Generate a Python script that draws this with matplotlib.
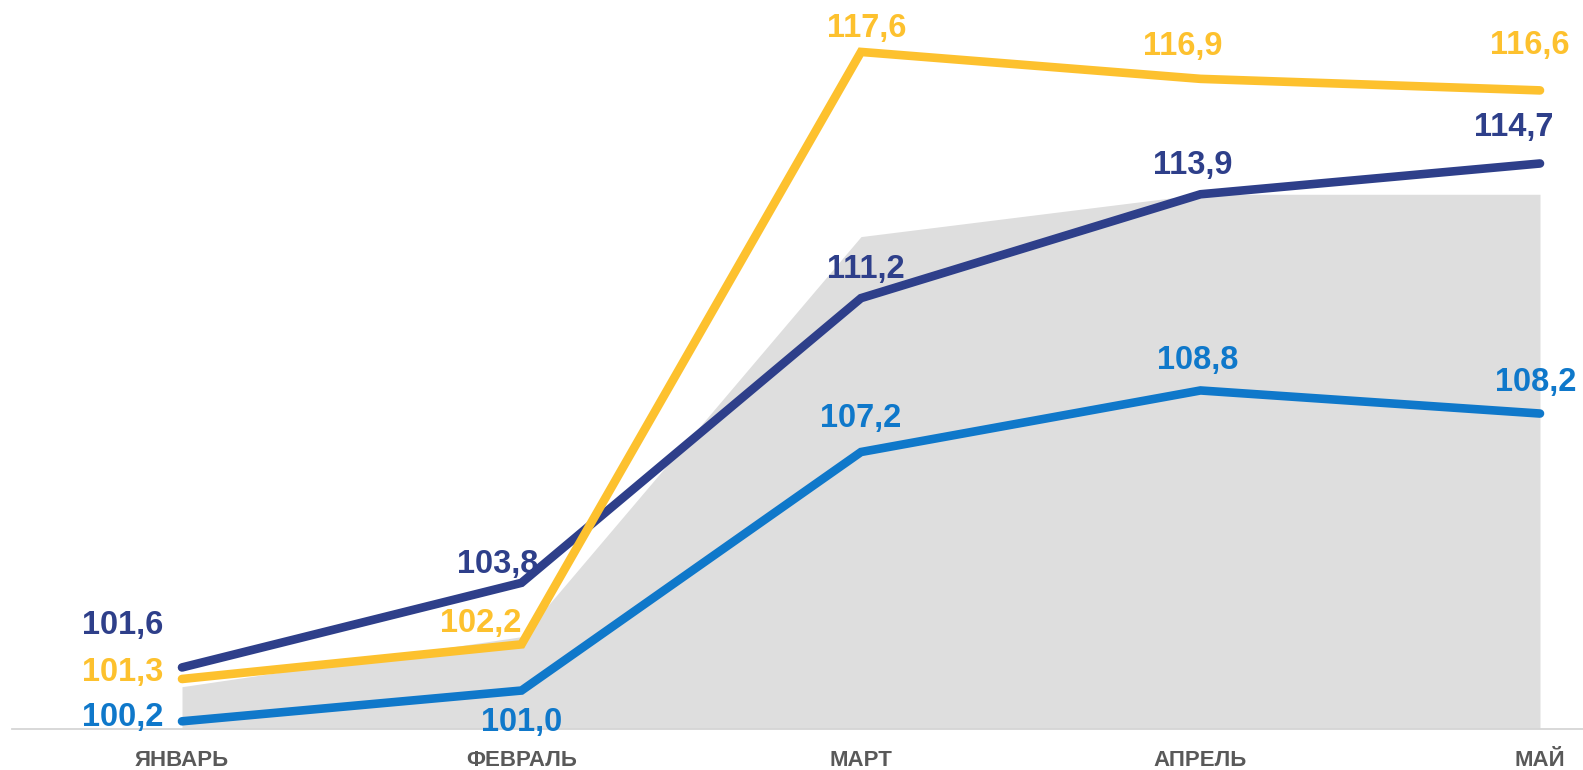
import numpy as np
import matplotlib.pyplot as plt
from matplotlib import transforms

plt.rcParams['font.family'] = ['Liberation Sans', 'DejaVu Sans']

months = ['ЯНВАРЬ', 'ФЕВРАЛЬ', 'МАРТ', 'АПРЕЛЬ', 'МАЙ']
series_dark = [101.6, 103.8, 111.2, 113.9, 114.7]
series_yellow = [101.3, 102.2, 117.6, 116.9, 116.6]
series_blue = [100.2, 101.0, 107.2, 108.8, 108.2]
area_gray = [101.1, 102.4, 112.8, 113.9, 113.9]

# label offsets in pixels (dx, dy up) relative to each point
offs_dark = [(-59, 33), (-24, 10), (5, 20), (-8, 20), (-26, 27)]
offs_yellow = [(-59, -2), (-41, 12), (6, 15), (-18, 24), (-10, 36)]
offs_blue = [(-59, -5), (0, -40), (0, 25), (-3, 21), (-4, 23)]

c_dark = '#2e3f8a'
c_yellow = '#fdc12e'
c_blue = '#0f78ca'
c_gray = '#dedede'

W, H = 1583, 770
fig = plt.figure(figsize=(W / 100, H / 100), dpi=100)
ax = fig.add_axes([0, 0, 1, 1])

x = np.arange(len(months))
px_x = 339.5
px_y = 38.47
ax.set_xlim(-182 / px_x, 4 + 43 / px_x)
ax.set_ylim(100 - 41 / px_y, 100 + 729 / px_y)
ax.axis('off')

ax.fill_between(x, 100, area_gray, color=c_gray, linewidth=0, zorder=1)
ax.axhline(100, xmin=12 / W, xmax=1, color='#d6d6d6', lw=1.3, zorder=2)

for vals, col, offs in [(series_blue, c_blue, offs_blue),
                        (series_dark, c_dark, offs_dark),
                        (series_yellow, c_yellow, offs_yellow)]:
    ax.plot(x, vals, color=col, lw=6.2, solid_capstyle='round',
            solid_joinstyle='miter', zorder=3)
    for xi, v, (dx, dy) in zip(x, vals, offs):
        ax.annotate(f'{v:.1f}'.replace('.', ','), (xi, v), xytext=(dx, dy),
                    textcoords='offset pixels', ha='center', va='baseline',
                    fontsize=23.5, fontweight='bold', color=col, zorder=4)

for xi, m in zip(x, months):
    ax.text(xi, 100 - 37 / px_y, m, ha='center', va='baseline', fontsize=16,
            fontweight='bold', color='#595959')

fig.savefig('out.png', dpi=100)
